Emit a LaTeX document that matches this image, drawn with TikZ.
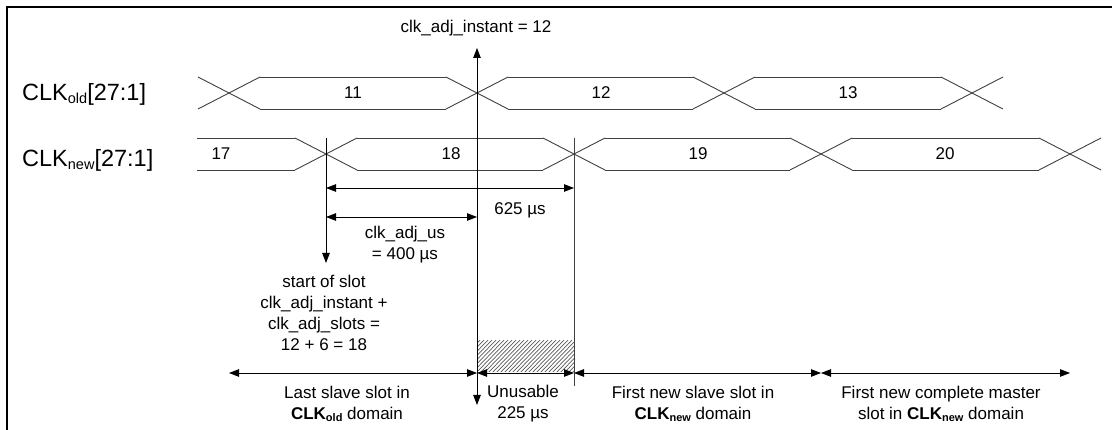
\documentclass[tikz,border=0pt]{standalone}
\usepackage{fontspec}
\setmainfont{Liberation Sans}
\usetikzlibrary{arrows.meta}
\newcommand{\bsbs}[1]{\raisebox{-0.22ex}{\fontsize{11}{11}\selectfont\bfseries #1}}
\newcommand{\lsbs}[1]{\raisebox{-0.25ex}{\fontsize{14.5}{14.5}\selectfont #1}}
\begin{document}
\begin{tikzpicture}[x=1pt,y=-1pt,
  sig/.style={draw=black!75, line width=0.9pt},
  vline/.style={draw=black!75, line width=0.9pt},
  dim/.style={{Triangle[length=10pt,width=7.5pt]}-{Triangle[length=10pt,width=7.5pt]}, line width=0.8pt},
  txt/.style={font=\fontsize{17}{21}\selectfont, inner sep=0pt, align=center},
  lbl/.style={font=\fontsize{23.5}{26}\selectfont, inner sep=0pt, anchor=west}]
\useasboundingbox (0,0) rectangle (1112,430);
% frame
\draw[line width=2.4pt] (7,430) -- (7,7) -- (1112,7);
% labels
\node[lbl] (lold) at (22,94) {CLK\lsbs{old}[27:1]};
\node[lbl] (lnew) at (22,160) {CLK\lsbs{new}[27:1]};
% old bus
\def\ot{77}\def\ob{109}
\foreach \c in {229,477,724,972} {
  \draw[sig] (\c-31,\ot) -- (\c+31,\ob);
  \draw[sig] (\c-31,\ob) -- (\c+31,\ot);
}
\foreach \a/\b in {229/477,477/724,724/972} {
  \draw[sig] (\a+31,\ot) -- (\b-31,\ot);
  \draw[sig] (\a+31,\ob) -- (\b-31,\ob);
}
% new bus
\def\nt{138}\def\nb{170}
\foreach \c in {326,574,821,1070} {
  \draw[sig] (\c-31,\nt) -- (\c+31,\nb);
  \draw[sig] (\c-31,\nb) -- (\c+31,\nt);
}
\draw[sig] (197,\nt) -- (295,\nt);
\draw[sig] (197,\nb) -- (295,\nb);
\foreach \a/\b in {326/574,574/821,821/1070} {
  \draw[sig] (\a+31,\nt) -- (\b-31,\nt);
  \draw[sig] (\a+31,\nb) -- (\b-31,\nb);
}
% bus values
\node[txt] (v11) at (353,93) {11};
\node[txt] (v12) at (601,93) {12};
\node[txt] (v13) at (848,93) {13};
\node[txt] (v17) at (221,154) {17};
\node[txt] (v18) at (451,154) {18};
\node[txt] (v19) at (698,154) {19};
\node[txt] (v20) at (945,154) {20};
% key coordinates
\coordinate (instTop) at (477,48);
\coordinate (instBot) at (477,405);
\coordinate (sTop) at (326,138);
\coordinate (sBot) at (326,263);
\coordinate (eTop) at (574,138);
\coordinate (eBot) at (574,386);
\coordinate (a1) at (326,188);
\coordinate (a2) at (574,188);
\coordinate (b1) at (326,217);
\coordinate (b2) at (477,217);
\coordinate (c0) at (229,373);
\coordinate (c1) at (477,373);
\coordinate (c2) at (574,373);
\coordinate (c3) at (821,373);
\coordinate (c4) at (1070,373);
% hatched unusable region
\begin{scope}
  \clip (477,341) rectangle (574,372);
  \foreach \x in {440,444,...,580} {
    \draw[black!65, line width=0.7pt] (\x,373) -- (\x+32,340);
  }
\end{scope}
% vertical lines
\draw[vline] (eTop) -- (eBot);
\draw[vline, -{Triangle[length=10pt,width=7.5pt]}, draw=black] (sTop) -- (sBot);
\draw[line width=0.9pt, {Triangle[length=10pt,width=7.5pt]}-{Triangle[length=10pt,width=7.5pt]}] (instTop) -- (instBot);
% dimension arrows
\draw[dim] (a1) -- (a2);
\draw[dim] (b1) -- (b2);
\draw[dim] (c0) -- (c1);
\draw[dim] (c1) -- (c2);
\draw[dim] (c2) -- (c3);
\draw[dim] (c3) -- (c4);
% texts
\node[txt] (tinst) at (476,28) {clk\_adj\_instant = 12};
\node[txt] (t625) at (520,210) {625 µs};
\node[txt] (tus) at (405,245) {clk\_adj\_us\\= 400 µs};
\node[txt] (tslot) at (324,313) {start of slot\\clk\_adj\_instant +\\clk\_adj\_slots =\\12 + 6 = 18};
\node[txt] (tlast) at (347,404) {Last slave slot in\\\textbf{CLK}\bsbs{old} domain};
\node[txt] (tunus) at (523,404) {Unusable\\225 µs};
\node[txt] (tfirst) at (693,404) {First new slave slot in\\\textbf{CLK}\bsbs{new} domain};
\node[txt] (tmaster) at (941,404) {First new complete master\\slot in \textbf{CLK}\bsbs{new} domain};
\end{tikzpicture}
\end{document}
